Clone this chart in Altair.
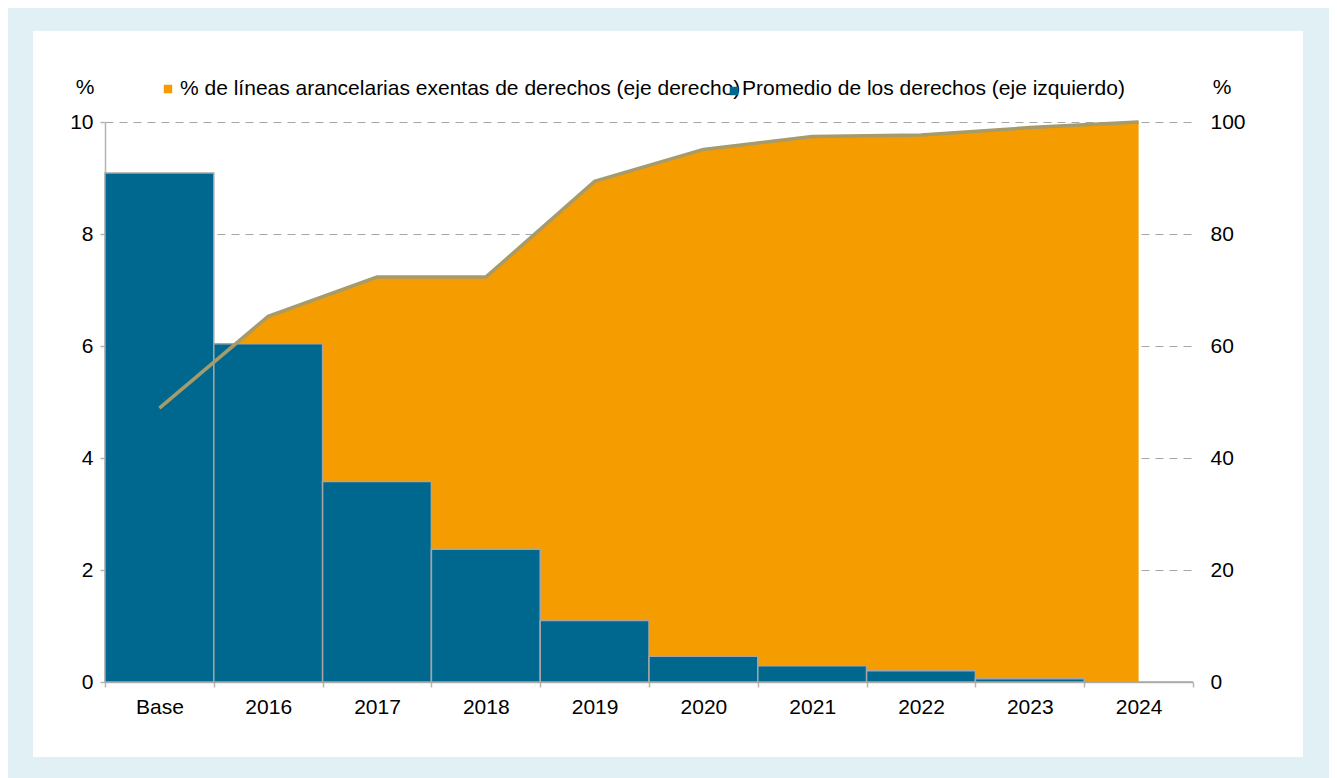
import altair as alt
import pandas as pd

# ---- data ----
categories = ["Base", "2016", "2017", "2018", "2019", "2020", "2021", "2022", "2023", "2024"]
avg_duty = [9.09, 6.04, 3.58, 2.37, 1.10, 0.46, 0.29, 0.20, 0.06, 0.0]          # left axis, %
duty_free_share = [48.9, 65.3, 72.3, 72.3, 89.4, 95.1, 97.4, 97.7, 99.0, 100.0]  # right axis, %
left_ticks = [0, 2, 4, 6, 8, 10]
right_ticks = [0, 20, 40, 60, 80, 100]
legend_share = "% de líneas arancelarias exentas de derechos (eje derecho)"
legend_avg = "Promedio de los derechos (eje izquierdo)"

df = pd.DataFrame({"cat": categories, "avg": avg_duty, "share": duty_free_share})

FONT = "Liberation Sans"
FS = 21
BLUE = "#00688f"
ORANGE = "#f49c00"
LINE = "#a79b69"
AXIS_GREY = "#b4b4b4"
BG = "#e1f0f4"

x_enc = alt.X(
    "cat:N", sort=categories,
    scale=alt.Scale(paddingInner=0, paddingOuter=0),
    axis=alt.Axis(title=None, labelAngle=0, labelFontSize=FS, labelFont=FONT, labelColor="#000",
                  domainColor=AXIS_GREY, domainWidth=1.5, tickColor=AXIS_GREY, tickWidth=1.5,
                  tickSize=5, tickBand="extent", labelPadding=9, grid=False),
)

one = alt.Data(values=[{}])


def strip(x1, x2, y1, y2):
    return alt.Chart(one).mark_rect(color=BG).encode(
        x=alt.value(x1), x2=alt.value(x2), y=alt.value(y1), y2=alt.value(y2))


strips = [
    strip(-99, 1224, -130, -91),
    strip(-99, 1224, 635, 700),
    strip(-99, -72, -130, 700),
    strip(1198, 1224, -130, 700),
]

area = alt.Chart(df).mark_area(color=ORANGE, opacity=1).encode(
    x=x_enc,
    y=alt.Y("share:Q", scale=alt.Scale(domain=[0, 100], nice=False),
            axis=alt.Axis(orient="right", values=right_ticks, title=None, grid=False, domain=False,
                          ticks=False, labelPadding=17, labelFontSize=FS, labelFont=FONT,
                          labelColor="#000")),
)

bars = alt.Chart(df).mark_bar(color=BLUE, stroke="#a6a6a6", strokeWidth=1.5).encode(
    x=x_enc,
    y=alt.Y("avg:Q", scale=alt.Scale(domain=[0, 10], nice=False),
            axis=alt.Axis(orient="left", values=left_ticks, title=None, grid=True,
                          gridDash=[8, 6], gridColor="#a6a6a6", gridWidth=1,
                          domainColor=AXIS_GREY, domainWidth=1.5, tickColor=AXIS_GREY,
                          tickWidth=1.5, tickSize=5, labelPadding=7, labelFontSize=FS,
                          labelFont=FONT, labelColor="#000")),
)

line = alt.Chart(df).mark_line(color=LINE, strokeWidth=3.5).encode(
    x=x_enc,
    y=alt.Y("share:Q", scale=alt.Scale(domain=[0, 100], nice=False), axis=None),
)


def txt(s, x, y, align="left"):
    return alt.Chart(one).mark_text(align=align, baseline="middle", fontSize=FS, font=FONT,
                                    color="#000").encode(
        x=alt.value(x), y=alt.value(y), text=alt.value(s))


def sq(color, x, y):
    return alt.Chart(one).mark_square(size=72, color=color, opacity=1).encode(
        x=alt.value(x), y=alt.value(y))


legend = [
    txt("%", -20, -34, "center"),
    txt("%", 1117, -34, "center"),
    sq(ORANGE, 63, -33),
    txt(legend_share, 75, -33),
    sq(BLUE, 629, -31),
    txt(legend_avg, 637, -33),
]

chart = alt.layer(*strips, area, bars, line, *legend).resolve_scale(
    y="independent"
).properties(
    width=1088, height=560,
    autosize=alt.AutoSizeParams(type="none"),
    padding={"left": 97, "top": 114, "right": 136, "bottom": 96},
    background="white",
).configure_view(stroke=None)

chart.save("out.html", embed_options={"renderer": "svg", "actions": False})
